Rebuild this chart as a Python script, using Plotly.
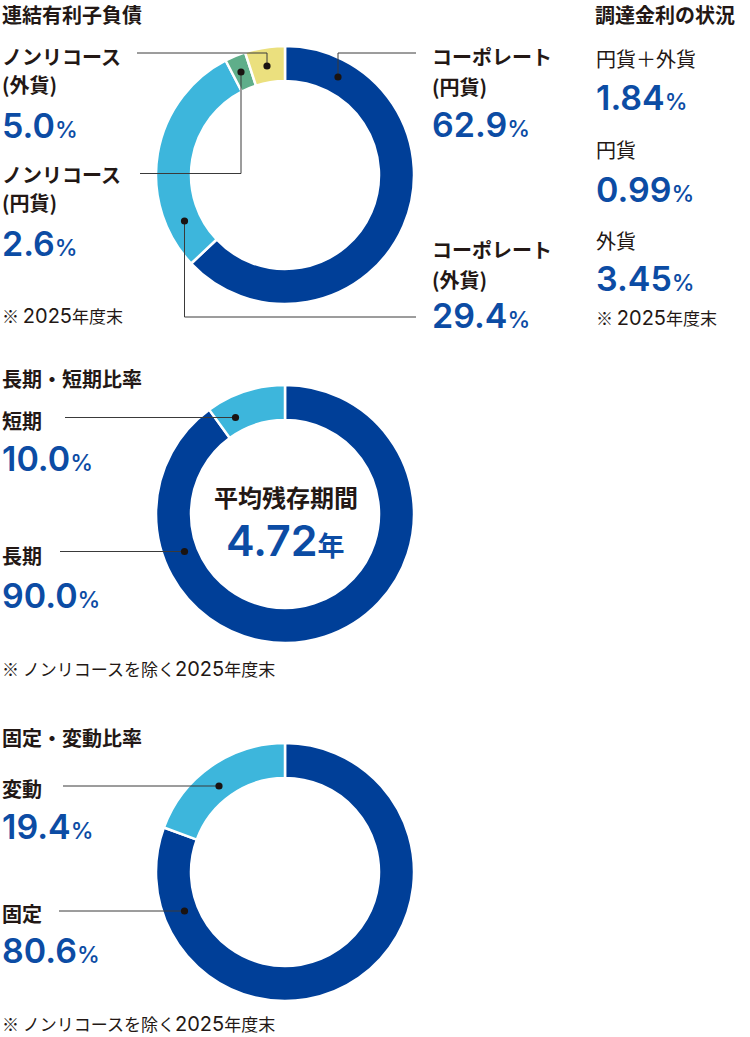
import plotly.graph_objects as go

W, H = 750, 1037

# ---------------- data ----------------
debt_labels = ["コーポレート（円貨）", "コーポレート（外貨）", "ノンリコース（円貨）", "ノンリコース（外貨）"]
debt_values = [62.9, 29.4, 2.6, 5.0]

term_labels = ["長期", "短期"]
term_values = [90.0, 10.0]

fix_labels = ["固定", "変動"]
fix_values = [80.6, 19.4]

rate_labels = ["円貨＋外貨", "円貨", "外貨"]
rate_values = [1.84, 0.99, 3.45]

avg_years = 4.72
year_end = "2025"

# ---------------- style ----------------
DARK = "#003f98"
LIGHT = "#3db6dc"
GREEN = "#5fae8a"
YELLOW = "#ebe07e"
TXT = "#231815"
BLUE_TXT = "#0c4ca4"
LINE = "#3a3a3a"
JP = "Noto Sans CJK JP"
NUM = "Inter, Liberation Sans, Arial, sans-serif"


def px(x):
    return x / W


def py(y):
    return 1 - y / H


def dom(cx, cy, r):
    return dict(x=[(cx - r) / W, (cx + r) / W], y=[1 - (cy + r) / H, 1 - (cy - r) / H])


R = 129
HOLE = 94 / 129

fig = go.Figure()


def donut(labels, values, colors, cx, cy):
    fig.add_trace(go.Pie(
        labels=labels, values=values, sort=False, direction="clockwise", rotation=0,
        hole=HOLE, textinfo="none", hoverinfo="label+percent", showlegend=False,
        marker=dict(colors=colors, line=dict(color="white", width=2.5)),
        domain=dom(cx, cy, R),
    ))


donut(debt_labels, debt_values, [DARK, LIGHT, GREEN, YELLOW], 285, 175)
donut(term_labels, term_values, [DARK, LIGHT], 285, 514)
donut(fix_labels, fix_values, [DARK, LIGHT], 285, 872)

annotations = []


def text(x, y, s, size=20, bold=True, color=TXT, family=JP, anchor="left", weight=None):
    w = weight if weight is not None else ("bold" if bold else "normal")
    annotations.append(dict(
        x=px(x), y=py(y), xref="paper", yref="paper", text=s, showarrow=False,
        xanchor=anchor, yanchor="middle", align="left", borderpad=0,
        font=dict(family=family, size=size, color=color, weight=w),
    ))


def pct(x, y, v, fmt="{:.1f}"):
    s = fmt.format(v) + "<span style='font-size:23px;font-weight:500'>%</span>"
    text(x, y, s, size=34, color=BLUE_TXT, family=NUM, weight=600)


def note(x, y, pre):
    s = f"※ {pre}<span style='font-family:Inter;font-size:20px'>{year_end}</span>年度末"
    text(x, y, s, size=17, bold=False)


shapes = []


def callout(points, dot):
    for (x0, y0), (x1, y1) in zip(points[:-1], points[1:]):
        shapes.append(dict(type="line", xref="paper", yref="paper",
                           x0=px(x0), y0=py(y0), x1=px(x1), y1=py(y1),
                           line=dict(color=LINE, width=1)))
    r = 3.6
    shapes.append(dict(type="circle", xref="paper", yref="paper",
                       x0=px(dot[0] - r), x1=px(dot[0] + r), y0=py(dot[1] + r), y1=py(dot[1] - r),
                       fillcolor="#1a1311", line=dict(width=0)))


# ---- chart 1 ----
text(1, 14.5, "連結有利子負債")
text(1, 56.5, "ノンリコース")
text(1, 85, "(外貨)")
pct(1, 125, debt_values[3])
text(1, 175, "ノンリコース")
text(1, 203, "(円貨)")
pct(1, 243, debt_values[2])
note(1, 315.5, "")

text(431, 56.5, "コーポレート")
text(431, 86, "(円貨)")
pct(431, 124.5, debt_values[0])
text(431, 250, "コーポレート")
text(431, 279, "(外貨)")
pct(431, 315.5, debt_values[1])

callout([(416, 53), (338, 53), (338, 77)], (338, 77))
callout([(416, 317), (184.5, 317), (184.5, 221)], (184.5, 221))
callout([(140, 173.5), (241, 173.5), (241, 72)], (241, 72))
callout([(137, 53), (267, 53), (267, 66)], (267, 66))

# ---- rates ----
text(594, 14.5, "調達金利の状況")
ry = [(58, 97), (149, 189.5), (241, 278.5)]
for lab, val, (ly, vy) in zip(rate_labels, rate_values, ry):
    text(595, ly, lab, size=20, bold=False)
    pct(595, vy, val, fmt="{:.2f}")
note(595, 317, "")

# ---- chart 2 ----
text(1, 378, "長期・短期比率")
text(1, 420, term_labels[1])
pct(1, 458, term_values[1])
text(1, 555, term_labels[0])
pct(1, 595, term_values[0])
note(1, 668, "ノンリコースを除く")
text(285.5, 496, "平均残存期間", size=24, anchor="center")
text(285.5, 540,
     "{:.2f}".format(avg_years) + f"<span style='font-size:27px;font-family:{JP};font-weight:bold'>年</span>",
     size=43, color=BLUE_TXT, family=NUM, anchor="center", weight=600)
callout([(65, 417.5), (235.5, 417.5)], (235.5, 417.5))
callout([(60, 551.5), (184.5, 551.5)], (184.5, 551.5))

# ---- chart 3 ----
text(1, 737, "固定・変動比率")
text(1, 788, fix_labels[1])
pct(1, 826, fix_values[1])
text(1, 913, fix_labels[0])
pct(1, 950, fix_values[0])
note(1, 1023, "ノンリコースを除く")
callout([(63, 786), (219, 786)], (219, 786))
callout([(59, 911), (184.5, 911)], (184.5, 911))

fig.update_layout(
    width=W, height=H, margin=dict(l=0, r=0, t=0, b=0),
    paper_bgcolor="white", plot_bgcolor="white",
    annotations=annotations, shapes=shapes,
)

fig.write_html("out.html", config={"displayModeBar": False},
               post_script="document.body.style.margin='0';document.body.style.overflow='hidden';")
